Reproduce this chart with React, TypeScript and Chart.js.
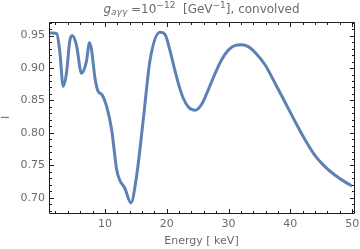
import React, { useEffect, useRef } from "react";
import { Chart, registerables } from "chart.js";

Chart.register(...registerables);

const energy = [0.95, 1.5, 2.2, 2.7, 3.25, 3.8, 4.3, 4.7, 5.4, 6.2, 7.0, 7.5, 7.8, 8.4, 8.9, 9.5, 10.3, 11.1, 11.9, 12.4, 13.2, 14.2, 15.1, 16.2, 17.3, 18.9, 19.7, 20.5, 21.3, 22.1, 22.7, 23.5, 24.6, 25.7, 26.7, 27.8, 28.9, 30.0, 31.1, 32.1, 33.2, 34.3, 35.9, 37.5, 39.1, 40.8, 42.4, 44.0, 45.6, 47.2, 48.9, 50.0];
const intensity = [0.954, 0.954, 0.953, 0.925, 0.872, 0.894, 0.941, 0.95, 0.935, 0.892, 0.91, 0.939, 0.93, 0.884, 0.864, 0.859, 0.84, 0.804, 0.743, 0.727, 0.715, 0.692, 0.732, 0.82, 0.912, 0.955, 0.952, 0.928, 0.897, 0.869, 0.853, 0.84, 0.835, 0.845, 0.866, 0.891, 0.913, 0.928, 0.935, 0.936, 0.933, 0.924, 0.905, 0.877, 0.848, 0.817, 0.789, 0.765, 0.748, 0.735, 0.724, 0.718];

const xTicks = [10, 20, 30, 40, 50];
const yTicks = [0.7, 0.75, 0.8, 0.85, 0.9, 0.95];
const xMinorStep = 2;
const yMinorStep = 0.01;

const FONT = "'DejaVu Sans', sans-serif";
const GREY = "#6b6b6b";

const framePlugin = {
  id: "frame",
  afterDatasetsDraw(chart: any) {
    const { ctx, chartArea: a, scales } = chart;
    const x = scales.x;
    const y = scales.y;
    const L = Math.round(a.left) + 0.5;
    const R = Math.round(a.right) + 0.5;
    const T = Math.round(a.top) + 0.5;
    const B = Math.round(a.bottom) + 0.5;
    ctx.save();
    ctx.strokeStyle = "#1e1e1e";
    ctx.lineWidth = 1;
    ctx.beginPath();
    ctx.rect(L, T, R - L, B - T);
    ctx.stroke();
    ctx.beginPath();
    const major = 4.5;
    const minor = 2.5;
    for (let v = 0; v <= x.max + 1e-9; v += xMinorStep) {
      if (v < x.min) continue;
      const isMajor = xTicks.some((t) => Math.abs(t - v) < 1e-6);
      const len = isMajor ? major : minor;
      const px = Math.round(x.getPixelForValue(v)) + 0.5;
      ctx.moveTo(px, B);
      ctx.lineTo(px, B - len);
      ctx.moveTo(px, T);
      ctx.lineTo(px, T + len);
    }
    const n0 = Math.ceil(y.min / yMinorStep - 1e-9);
    const n1 = Math.floor(y.max / yMinorStep + 1e-9);
    for (let n = n0; n <= n1; n++) {
      const v = n * yMinorStep;
      const isMajor = yTicks.some((t) => Math.abs(t - v) < 1e-6);
      const len = isMajor ? major : minor;
      const py = Math.round(y.getPixelForValue(v)) + 0.5;
      ctx.moveTo(L, py);
      ctx.lineTo(L + len, py);
      ctx.moveTo(R, py);
      ctx.lineTo(R - len, py);
    }
    ctx.stroke();
    ctx.restore();
  },
};

const titlePlugin = {
  id: "mtitle",
  afterDraw(chart: any) {
    const { ctx, chartArea: a } = chart;
    const big = 12;
    const small = 9;
    const segs = [
      { t: "g", size: big, italic: true, dy: 0 },
      { t: "aγγ", size: small, italic: true, dy: 2.5 },
      { t: " =10", size: big, italic: false, dy: 0 },
      { t: "−12", size: small, italic: false, dy: -4.5 },
      { t: "  [GeV", size: big, italic: false, dy: 0 },
      { t: "−1", size: small, italic: false, dy: -4.5 },
      { t: "], convolved", size: big, italic: false, dy: 0 },
    ];
    ctx.save();
    ctx.fillStyle = GREY;
    ctx.textBaseline = "alphabetic";
    ctx.textAlign = "left";
    let total = 0;
    const widths: number[] = [];
    for (const s of segs) {
      ctx.font = `${s.italic ? "italic " : ""}${s.size}px ${FONT}`;
      const w = ctx.measureText(s.t).width;
      widths.push(w);
      total += w;
    }
    let cx = (a.left + a.right) / 2 - total / 2;
    const base = 12.5;
    segs.forEach((s, i) => {
      ctx.font = `${s.italic ? "italic " : ""}${s.size}px ${FONT}`;
      ctx.fillText(s.t, cx, base + s.dy);
      cx += widths[i];
    });
    ctx.restore();
  },
};

export default function App() {
  const ref = useRef<HTMLCanvasElement | null>(null);
  useEffect(() => {
    if (!ref.current) return;
    const chart = new Chart(ref.current, {
      type: "line",
      data: {
        datasets: [
          {
            data: energy.map((e, i) => ({ x: e, y: intensity[i] })),
            borderColor: "rgb(94,129,181)",
            borderWidth: 3,
            pointRadius: 0,
            cubicInterpolationMode: "monotone",
            fill: false,
          },
        ],
      },
      options: {
        responsive: false,
        animation: false,
        devicePixelRatio: 1,
        layout: { padding: { top: 22, right: 6, left: 0, bottom: 0 } },
        plugins: { legend: { display: false }, tooltip: { enabled: false }, title: { display: false } },
        scales: {
          x: {
            type: "linear",
            min: 0.95,
            max: 50.3,
            grid: { display: false, drawTicks: false },
            border: { display: false },
            afterBuildTicks: (s: any) => {
              s.ticks = xTicks.map((v) => ({ value: v }));
            },
            afterFit: (s: any) => {
              s.height = 36;
              s.paddingLeft = 0;
              s.paddingRight = 0;
            },
            ticks: {
              color: GREY,
              font: { family: FONT, size: 11 },
              padding: 5,
              maxRotation: 0,
              callback: (v: any) => String(v),
            },
            title: {
              display: true,
              text: "Energy [ keV]",
              color: GREY,
              font: { family: FONT, size: 11 },
              padding: { top: 0, bottom: 1 },
            },
          },
          y: {
            type: "linear",
            min: 0.6764,
            max: 0.971,
            grid: { display: false, drawTicks: false },
            border: { display: false },
            afterBuildTicks: (s: any) => {
              s.ticks = yTicks.map((v) => ({ value: v }));
            },
            afterFit: (s: any) => {
              s.width = 49;
              s.paddingTop = 0;
              s.paddingBottom = 0;
            },
            ticks: {
              color: GREY,
              font: { family: FONT, size: 11 },
              padding: 4,
              callback: (v: any) => Number(v).toFixed(2),
            },
            title: {
              display: true,
              text: "I",
              color: GREY,
              font: { family: FONT, size: 11 },
              padding: { top: 0, bottom: 0 },
            },
          },
        },
      },
      plugins: [framePlugin, titlePlugin],
    } as any);
    return () => chart.destroy();
  }, []);
  return (
    <div style={{ position: "absolute", left: 0, top: 0, width: 360, height: 249 }}>
      <canvas ref={ref} width={360} height={249} style={{ width: 360, height: 249, display: "block" }} />
    </div>
  );
}
